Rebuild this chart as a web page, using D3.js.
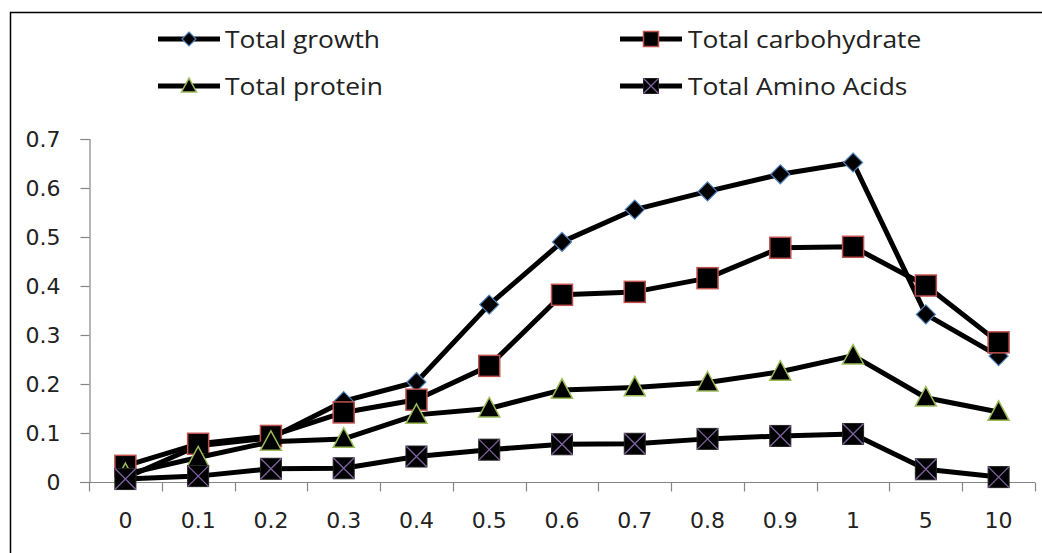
<!DOCTYPE html>
<html>
<head>
<meta charset="utf-8">
<script src="https://cdn.jsdelivr.net/npm/d3@7"></script>
<style>
  body { margin: 0; background: #fff; }
  svg { display: block; }
</style>
</head>
<body>
<svg id="chart"></svg>
<script>
// concentrations on the x axis (categorical)
const categories = ["0", "0.1", "0.2", "0.3", "0.4", "0.5", "0.6", "0.7", "0.8", "0.9", "1", "5", "10"];
const totalGrowth = [0.008, 0.074, 0.09, 0.165, 0.204, 0.362, 0.49, 0.556, 0.593, 0.628, 0.652, 0.342, 0.257];
const totalCarbohydrate = [0.033, 0.078, 0.094, 0.142, 0.168, 0.237, 0.382, 0.388, 0.416, 0.478, 0.48, 0.401, 0.285];
const totalProtein = [0.016, 0.05, 0.082, 0.088, 0.137, 0.15, 0.188, 0.193, 0.203, 0.225, 0.258, 0.172, 0.143];
const totalAminoAcids = [0.006, 0.012, 0.027, 0.028, 0.052, 0.066, 0.077, 0.078, 0.088, 0.094, 0.098, 0.026, 0.01];
const yTicks = [0, 0.1, 0.2, 0.3, 0.4, 0.5, 0.6, 0.7];

const series = [
  { name: "Total growth", values: totalGrowth, marker: "diamond", edge: "#4f81bd" },
  { name: "Total carbohydrate", values: totalCarbohydrate, marker: "square", edge: "#c0504d" },
  { name: "Total protein", values: totalProtein, marker: "triangle", edge: "#9bbb59" },
  { name: "Total Amino Acids", values: totalAminoAcids, marker: "xsquare", edge: "#8064a2" }
];

const width = 1042, height = 553;
const svg = d3.select("#chart").attr("width", width).attr("height", height);

// outer chart frame (right and bottom run off the picture)
svg.append("rect")
  .attr("x", 10.5).attr("y", 12.5)
  .attr("width", width + 20).attr("height", height + 20)
  .attr("fill", "none").attr("stroke", "#000").attr("stroke-width", 1.5);

const x = d3.scaleBand().domain(categories).range([89, 1035]);
const y = d3.scaleLinear().domain([0, 0.7]).range([482, 139]);
const axisColor = "#868686";
const tickFont = { family: "DejaVu Sans", size: 22, color: "#222" };

// y axis
const yAxis = svg.append("g")
  .attr("transform", "translate(89.5,0)")
  .call(d3.axisLeft(y).tickValues(yTicks).tickSize(9).tickPadding(20)
    .tickFormat(d => d === 0 ? "0" : d3.format(".1f")(d)));
yAxis.select(".domain").attr("stroke", axisColor).attr("stroke-width", 1.2);
yAxis.selectAll(".tick line").attr("stroke", axisColor).attr("stroke-width", 1.2);
yAxis.selectAll(".tick text")
  .attr("font-family", tickFont.family).attr("font-size", tickFont.size).attr("fill", tickFont.color);

// x axis: labels centred in categories, ticks on category boundaries
const xAxis = svg.append("g")
  .attr("transform", "translate(0,482.5)")
  .call(d3.axisBottom(x).tickSize(0).tickPadding(30));
xAxis.select(".domain").remove();
xAxis.selectAll(".tick text")
  .attr("font-family", tickFont.family).attr("font-size", tickFont.size).attr("fill", tickFont.color);
xAxis.append("line")
  .attr("x1", 80).attr("x2", x.range()[1])
  .attr("stroke", axisColor).attr("stroke-width", 1.2);
const bounds = categories.map(c => x(c)).concat([x.range()[1]]);
xAxis.selectAll(".bound").data(bounds).join("line")
  .attr("class", "bound")
  .attr("x1", d => Math.round(d) + 0.5).attr("x2", d => Math.round(d) + 0.5)
  .attr("y1", 0).attr("y2", 9)
  .attr("stroke", axisColor).attr("stroke-width", 1.2);

function drawMarker(g, type, edge, s) {
  const h = s / 2;
  if (type === "diamond") {
    g.append("path").attr("d", `M0,${-h}L${h},0L0,${h}L${-h},0Z`)
      .attr("fill", "#000").attr("stroke", edge).attr("stroke-width", 1.2);
  } else if (type === "square") {
    g.append("rect").attr("x", -h).attr("y", -h).attr("width", s).attr("height", s)
      .attr("fill", "#000").attr("stroke", edge).attr("stroke-width", 1.5);
  } else if (type === "triangle") {
    g.append("path").attr("d", `M0,${-h * 1.05}L${h},${h * 0.8}L${-h},${h * 0.8}Z`)
      .attr("fill", "#000").attr("stroke", edge).attr("stroke-width", 1.5);
  } else {
    g.append("rect").attr("x", -h).attr("y", -h).attr("width", s).attr("height", s)
      .attr("fill", "#000").attr("stroke", "#222").attr("stroke-width", 1);
    g.append("path").attr("d", `M${-h},${-h}L${h},${h}M${h},${-h}L${-h},${h}`)
      .attr("stroke", edge).attr("stroke-width", 1.3);
  }
}

const sizes = { diamond: 19, square: 21, triangle: 21, xsquare: 21 };
const line = d3.line()
  .x((d, i) => x(categories[i]) + x.bandwidth() / 2)
  .y(d => y(d));

series.forEach(s => {
  const g = svg.append("g");
  g.append("path").datum(s.values)
    .attr("d", line)
    .attr("fill", "none").attr("stroke", "#000")
    .attr("stroke-width", 5).attr("stroke-linejoin", "round");
  s.values.forEach((v, i) => {
    const m = g.append("g")
      .attr("transform", `translate(${x(categories[i]) + x.bandwidth() / 2},${y(v)})`);
    drawMarker(m, s.marker, s.edge, sizes[s.marker]);
  });
});

// legend (the original text is a little stretched sideways)
const legendPos = [[158, 39], [620, 39], [158, 86], [620, 86]];
series.forEach((s, i) => {
  const [lx, ly] = legendPos[i];
  const g = svg.append("g").attr("transform", `translate(${lx},${ly})`);
  g.append("line").attr("x1", 0).attr("x2", 62).attr("y1", 0).attr("y2", 0)
    .attr("stroke", "#000").attr("stroke-width", 5);
  const m = g.append("g").attr("transform", "translate(31,0)");
  drawMarker(m, s.marker, s.edge, s.marker === "diamond" ? 14 : 15);
  g.append("text")
    .attr("transform", `translate(${i % 2 === 0 ? 67 : 68},0) scale(1.1,1)`)
    .attr("dy", "0.36em")
    .attr("font-family", "Open Sans").attr("font-size", 24).attr("fill", "#222")
    .text(s.name);
});
</script>
</body>
</html>
